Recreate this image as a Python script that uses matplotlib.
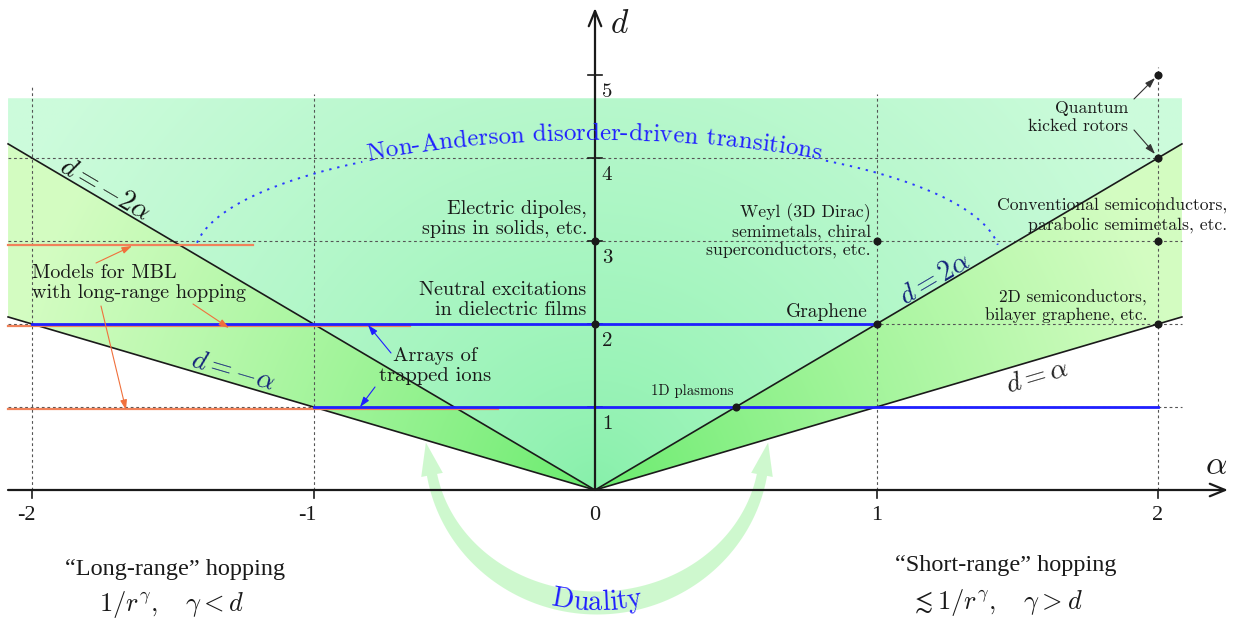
import numpy as np
import matplotlib
matplotlib.use("Agg")
import matplotlib.pyplot as plt
from matplotlib.patches import Polygon
from matplotlib.font_manager import FontProperties, findfont, get_font

plt.rcParams['font.family'] = ['cmr10', 'DejaVu Serif']
plt.rcParams['mathtext.fontset'] = 'cm'
TIMES = ['Liberation Serif', 'DejaVu Serif']

# ---- data ----
x_ticks = [-2, -1, 1, 2]
d_ticks = [1, 2, 3, 4, 5]
boundary_slopes = [2, 1]        # d = 2|alpha| and d = |alpha|
alpha_edge = 2.085
band_top = 4.72

point_alpha = [0, 0, 1, 1, 0.5, 2, 2, 2, 2]
point_d = [3, 2, 3, 2, 1, 5, 4, 3, 2]

blue_d = [2, 1]
blue_from = [-2, -1]
blue_to = [1, 2]

orange_d = [2.95, 1.97, 0.97]
orange_to = [-1.215, -0.657, -0.345]

grid_d = [1, 2, 3, 4]
grid_d_end = [alpha_edge, alpha_edge, alpha_edge, 2]
grid_a = [-2, -1, 1, 2]
grid_a_top = [4.88, 4.77, 4.77, 5.1]

# pixel layout of the 1234x618 canvas
W, H = 1234, 618
X0, Y0, SX, SY = 595, 490, 281.5, 83.0


def P(x, y):
    # pixel position (y down) -> data (alpha, d)
    return ((x - X0) / SX, (Y0 - y) / SY)


fig = plt.figure(figsize=(W / 100, H / 100), dpi=100)
ax = fig.add_axes([0, 0, 1, 1])
ax.axis('off')

# ---- shaded regions ----
ae = alpha_edge
gx = np.linspace(-ae, ae, 700)
gy = np.linspace(0, band_top, 350)
GX, GY = np.meshgrid(gx, gy)
r = np.hypot(GX * SX, GY * SY)


def ramp(c0, c1, t):
    c0 = np.array(c0)[None, None, :]
    c1 = np.array(c1)[None, None, :]
    return c0 * (1 - t[..., None]) + c1 * t[..., None]


imgA = ramp((0.52, 0.94, 0.66), (0.80, 0.985, 0.86), np.clip(r / 650, 0, 1) ** 0.7)
imgB = ramp((0.40, 0.92, 0.42), (0.83, 0.99, 0.76), np.clip(r / 600, 0, 1) ** 0.8)
ext = [-ae, ae, 0, band_top]

k_hi, k_lo = boundary_slopes
polyA = Polygon([(-ae, k_hi * ae), (0, 0), (ae, k_hi * ae), (ae, band_top), (-ae, band_top)],
                closed=True, fc='none', ec='none')
polyB = Polygon([(-ae, k_hi * ae), (0, 0), (ae, k_hi * ae), (ae, k_lo * ae), (0, 0), (-ae, k_lo * ae)],
                closed=True, fc='none', ec='none')
for img, poly in [(imgA, polyA), (imgB, polyB)]:
    ax.add_patch(poly)
    im = ax.imshow(img, extent=ext, origin='lower', aspect='auto', interpolation='bilinear', zorder=1)
    im.set_clip_path(poly)

# ---- dotted grid ----
dot_style = dict(color='#555555', lw=0.8, ls=(0, (2.5, 2.5)), zorder=2)
for d, x_end in zip(grid_d, grid_d_end):
    ax.plot([-ae, x_end], [d, d], **dot_style)
for a, top in zip(grid_a, grid_a_top):
    ax.plot([a, a], [0, top], **dot_style)

# ---- duality arrow (pixel geometry) ----
t = np.radians(np.linspace(170, 10, 200))
cx, cy, ea, eb = 597, 448, 167.5, 155
px_ = cx + ea * np.cos(t)
py_ = cy + eb * np.sin(t)
T = np.stack([ea * np.sin(t), -eb * np.cos(t)], axis=1)
T /= np.linalg.norm(T, axis=1)[:, None]
N = np.stack([-T[:, 1], T[:, 0]], axis=1)
hw = (10 + 13 * np.sin(t) ** 2) / 2
C = np.stack([px_, py_], axis=1)
side1 = C + N * hw[:, None]
side2 = C - N * hw[:, None]
head_len, head_hw = 33, 11
tip0 = C[0] - T[0] * head_len
tip1 = C[-1] + T[-1] * head_len
outline = np.vstack([[tip0], [C[0] + N[0] * head_hw], side1,
                     [C[-1] + N[-1] * head_hw], [tip1], [C[-1] - N[-1] * head_hw],
                     side2[::-1], [C[0] - N[0] * head_hw]])
outline = np.array([P(x, y) for x, y in outline])
ax.add_patch(Polygon(outline, closed=True, fc='#c8f8c8', ec='none', alpha=0.88, zorder=2.5))

# ---- boundary lines ----
for k in boundary_slopes:
    ax.plot([-ae, 0, ae], [k * ae, 0, k * ae], color='#1a1a1a', lw=1.2, zorder=3)

# ---- horizontal model lines ----
for d, x0, x1 in zip(orange_d, [-ae] * 3, orange_to):
    ax.plot([x0, x1], [d, d], color='#f0825a', lw=1.6, zorder=3.5)
for d, x0, x1 in zip(blue_d, blue_from, blue_to):
    ax.plot([x0, x1], [d, d], color='#1f1fff', lw=2.0, zorder=4)

# ---- axes with arrows ----
axis_kw = dict(arrowstyle='->,head_length=1.1,head_width=0.45', lw=1.6, color='#1a1a1a',
               shrinkA=0, shrinkB=0)
ax.annotate('', xy=P(1228, 490), xytext=P(8, 490), arrowprops=axis_kw, zorder=5)
ax.annotate('', xy=P(595, 8), xytext=P(595, 490), arrowprops=axis_kw, zorder=5)
for a in x_ticks:
    ax.plot([a, a], [0, -0.1], color='#1a1a1a', lw=1.2, zorder=5)
for a in x_ticks + [0]:
    shift = -0.02 if a < 0 else 0
    ax.text(a + shift, -0.31, '%d' % a, ha='center', va='center', fontsize=16,
            color='#1a1a1a', family=TIMES)
for d in d_ticks:
    ax.plot([-0.025, 0.025], [d, d], color='#1a1a1a', lw=1.2, zorder=3.2)
    ax.text(0.043, d - 0.2, '%d' % d, ha='center', va='center', fontsize=15, color='#1a1a1a')
ax.text(*P(620, 24), r'$d$', fontsize=24, ha='center', va='center', color='#1a1a1a')
ax.text(*P(1216, 466), r'$\alpha$', fontsize=24, ha='center', va='center', color='#1a1a1a')

# ---- points ----
ax.scatter(point_alpha, point_d, s=34, color='#1a1a1a', zorder=6, linewidths=0)

# ---- line labels ----
def line_angle(k):
    return np.degrees(np.arctan(k * SY / SX))


navy = '#13237a'
for s, pos, k, c in [(r'$d=-2\alpha$', (105, 190), -2, '#111111'),
                     (r'$d=-\alpha$', (233, 371), -1, navy),
                     (r'$d=2\alpha$', (935, 279), 2, navy),
                     (r'$d=\alpha$', (1037, 377), 1, '#222222')]:
    ax.text(*P(*pos), s, fontsize=20, color=c, rotation=np.sign(k) * line_angle(abs(k)),
            rotation_mode='anchor', ha='center', va='center', zorder=7)

# ---- descriptive labels ----
txt = '#1a1a1a'
labels = [
    ("Electric dipoles,\nspins in solids, etc.", (587, 219), 'right', 14.5, 1.1),
    ("Neutral excitations\nin dielectric films", (586, 300), 'right', 14.5, 1.1),
    ("Weyl (3D Dirac)\nsemimetals, chiral\nsuperconductors, etc.", (871, 231), 'right', 12.8, 1.2),
    ("Graphene", (868, 312), 'right', 14, 1.1),
    ("Quantum\nkicked rotors", (1128, 117), 'right', 12.7, 1.2),
    ("Conventional semiconductors,\nparabolic semimetals, etc.", (1227, 216), 'right', 12.7, 1.25),
    ("2D semiconductors,\nbilayer graphene, etc.", (1147, 307), 'right', 12.4, 1.17),
    ("1D plasmons", (692, 391), 'center', 10.6, 1.1),
    ("Arrays of\ntrapped ions", (435, 366), 'center', 14.8, 1.1),
    ("Models for MBL\nwith long-range hopping", (32, 283), 'left', 14.5, 1.1),
]
for s, pos, ha, fs, ls in labels:
    ax.text(*P(*pos), s, ha=ha, va='center', ma=ha, fontsize=fs, color=txt,
            linespacing=ls, zorder=7)

bottom = [
    ("\u201cLong-range\u201d hopping", (175, 569), TIMES),
    (r"$1/r^{\gamma},\quad \gamma<d$", (172, 604), None),
    ("\u201cShort-range\u201d hopping", (1006, 566), TIMES),
    (r"$\lesssim 1/r^{\gamma},\quad \gamma>d$", (996, 602), None),
]
for s, pos, fam in bottom:
    kw = {'family': fam} if fam else {}
    ax.text(*P(*pos), s, ha='center', va='center', fontsize=19 if fam is None else 17.5,
            color=txt, zorder=7, **kw)

# ---- small pointer arrows ----
pointers = [((96, 263), (132, 246), '#f0703c'),
            ((193, 304), (229, 328), '#f0703c'),
            ((101, 306), (126, 410), '#f0703c'),
            ((391, 353), (368, 325), '#1f1fff'),
            ((375, 387), (360, 407), '#1f1fff'),
            ((1134, 99), (1155, 78), '#333333'),
            ((1134, 130), (1155, 154), '#333333')]
for p0, p1, c in pointers:
    ax.annotate('', xy=P(*p1), xytext=P(*p0), zorder=6,
                arrowprops=dict(arrowstyle='-|>,head_length=0.6,head_width=0.2', lw=0.8,
                                color=c, shrinkA=0, shrinkB=0))


# ---- text along curves ----
def arclen(xs, ys):
    return np.concatenate([[0], np.cumsum(np.hypot(np.diff(xs), np.diff(ys)))])


def text_along(xs, ys, s, size, color, s_center):
    L = arclen(xs, ys)
    fp = FontProperties(family='cmr10', size=size)
    font = get_font(findfont(fp))
    font.set_size(size, fig.dpi)
    adv = []
    for ch in s:
        if ch == ' ':
            adv.append(0.333 * size * fig.dpi / 72)
        else:
            adv.append(font.load_char(ord(ch)).linearHoriAdvance / 65536)
    adv = np.array(adv)
    start = s_center - adv.sum() / 2
    mids = start + np.cumsum(adv) - adv / 2
    for ch, m in zip(s, mids):
        if ch == ' ':
            continue
        x = np.interp(m, L, xs)
        y = np.interp(m, L, ys)
        i = int(np.clip(np.searchsorted(L, m), 1, len(L) - 1))
        ang = np.degrees(np.arctan2(-(ys[i] - ys[i - 1]), xs[i] - xs[i - 1]))
        ax.text(*P(x, y), ch, fontsize=size, color=color, rotation=ang, rotation_mode='anchor',
                ha='center', va='baseline', zorder=7)
    return L, start, start + adv.sum()


th = np.radians(np.linspace(173, 6, 3000))
arc_x = 597 + 403 * np.cos(th)
arc_y = 257 - 117 * np.sin(th)
L_top = arclen(arc_x, arc_y)
L, s0, s1 = text_along(arc_x, arc_y, "Non-Anderson disorder-driven transitions", 18, '#1f1fff',
                       np.interp(594, arc_x, L_top))
for mask in [L < s0 - 6, L > s1 + 6]:
    pts = np.array([P(x, y) for x, y in zip(arc_x[mask], arc_y[mask])])
    ax.plot(pts[:, 0], pts[:, 1], color='#2a3aff', lw=1.4, ls=(0, (1.2, 3)), zorder=3.8)

tu = np.radians(np.linspace(150, 30, 1500))
du_x = 597 + 182 * np.cos(tu)
du_y = 449 + 161 * np.sin(tu)
text_along(du_x, du_y, "Duality", 20.5, '#1f1fff', arclen(du_x, du_y)[-1] / 2)

ax.set_xlim(-X0 / SX, (W - X0) / SX)
ax.set_ylim((Y0 - H) / SY, Y0 / SY)
fig.savefig('out.png', dpi=100)
